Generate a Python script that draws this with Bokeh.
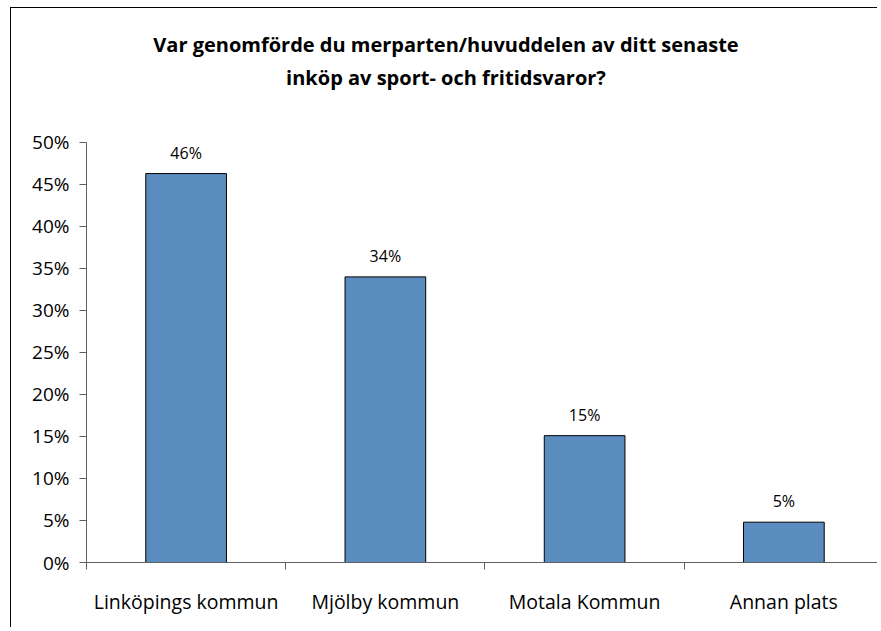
from bokeh.plotting import figure
from bokeh.models import (Range1d, FixedTicker, ColumnDataSource, LabelSet, Label,
                          NumeralTickFormatter)
from bokeh.core.properties import value
from bokeh.embed import file_html
from bokeh.resources import INLINE

categories = ["Linköpings kommun", "Mjölby kommun", "Motala Kommun", "Annan plats"]
values = [0.463, 0.340, 0.151, 0.048]
value_labels = ["46%", "34%", "15%", "5%"]
y_ticks = [0.0, 0.05, 0.10, 0.15, 0.20, 0.25, 0.30, 0.35, 0.40, 0.45, 0.50]
title_lines = ["Var genomförde du merparten/huvuddelen av ditt senaste",
               "inköp av sport- och fritidsvaror?"]

FONT = "Open Sans"
x_centers = [i + 0.5 for i in range(len(categories))]

src = ColumnDataSource(dict(x=x_centers, top=values, lab=value_labels))

# the frame reaches up to the top of the canvas so that the title can sit inside it;
# the value axis itself is bounded to 0-50 %
p = figure(width=867, height=620, output_backend="svg", toolbar_location=None,
           x_range=Range1d(0, 3.975), y_range=Range1d(0, 0.6595),
           min_border_left=75, min_border_right=0, min_border_top=0,
           min_border_bottom=66)
p.styles = {"border-top": "1px solid #000000", "border-left": "1px solid #000000",
            "margin-left": "10px", "margin-top": "7px"}
p.outline_line_color = None
p.grid.visible = False
p.background_fill_color = "white"
p.border_fill_color = "white"

p.vbar(x="x", top="top", width=0.405, bottom=0, source=src,
       fill_color="#5A8CC0", line_color="#000000", line_width=1)

p.add_layout(LabelSet(x="x", y="top", text="lab", source=src, text_align="center",
                      text_baseline="bottom", y_offset=10, text_font=value(FONT),
                      text_font_size="16px", text_color="#000000"))

# two-line centred chart title (screen offsets measured from the plot frame)
for txt, sy in zip(title_lines, [518, 485]):
    p.add_layout(Label(x=359.5, y=sy, x_units="screen", y_units="screen", text=txt,
                       text_align="center", text_baseline="middle", text_font=FONT,
                       text_font_style="bold", text_font_size="20px",
                       text_color="#000000"))

# y axis
ya = p.yaxis[0]
ya.bounds = (0, 0.5)
ya.ticker = FixedTicker(ticks=y_ticks)
ya.formatter = NumeralTickFormatter(format="0%")
ya.axis_line_color = "#606060"
ya.major_tick_line_color = "#606060"
ya.major_tick_out = 7
ya.major_tick_in = 0
ya.minor_tick_out = 0
ya.minor_tick_in = 0
ya.major_label_standoff = 10
ya.major_label_text_font = FONT
ya.major_label_text_font_size = "19px"
ya.major_label_text_color = "#000000"

# x axis: labels at category centres, tick marks at category boundaries
xa = p.xaxis[0]
xa.ticker = FixedTicker(ticks=x_centers, minor_ticks=[0, 1, 2, 3, 4])
xa.major_label_overrides = {c: n for c, n in zip(x_centers, categories)}
xa.axis_line_color = "#606060"
xa.major_tick_out = 0
xa.major_tick_in = 0
xa.minor_tick_line_color = "#606060"
xa.minor_tick_out = 7
xa.minor_tick_in = 0
xa.major_label_standoff = 18
xa.major_label_text_font = FONT
xa.major_label_text_font_size = "19.5px"
xa.major_label_text_color = "#000000"

open("out.html", "w").write(file_html(p, INLINE))
